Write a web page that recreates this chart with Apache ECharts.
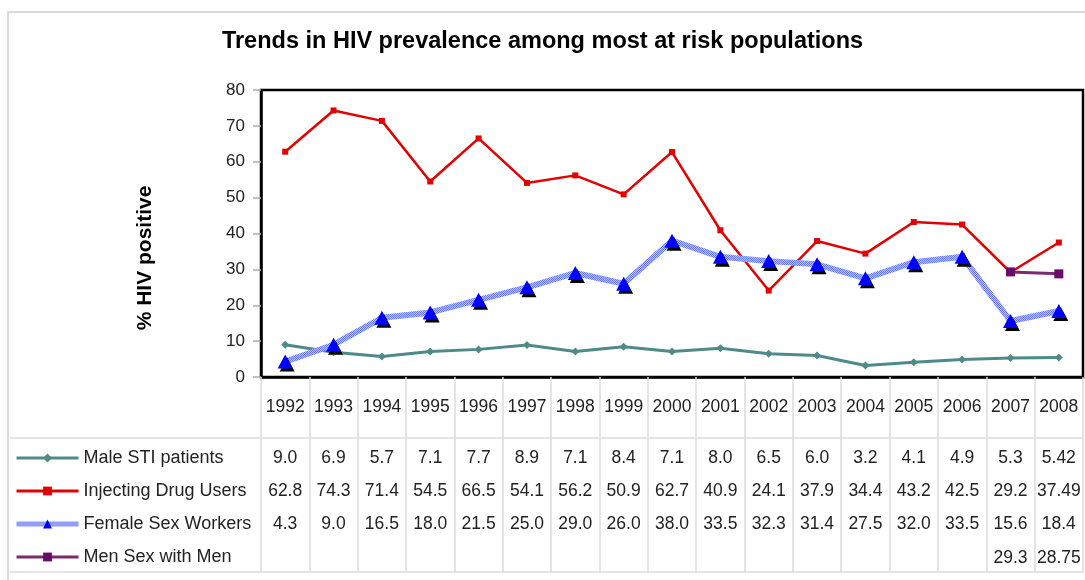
<!DOCTYPE html>
<html>
<head>
<meta charset="utf-8">
<script src="https://cdn.jsdelivr.net/npm/echarts@6/dist/echarts.min.js"></script>
<style>
html,body{margin:0;padding:0;background:#fff;}
#c{width:1085px;height:580px;}
</style>
</head>
<body>
<div id="c"></div>
<script>
const years = ['1992','1993','1994','1995','1996','1997','1998','1999','2000','2001','2002','2003','2004','2005','2006','2007','2008'];
const maleSTI = [9.0,6.9,5.7,7.1,7.7,8.9,7.1,8.4,7.1,8.0,6.5,6.0,3.2,4.1,4.9,5.3,5.42];
const idu = [62.8,74.3,71.4,54.5,66.5,54.1,56.2,50.9,62.7,40.9,24.1,37.9,34.4,43.2,42.5,29.2,37.49];
const fsw = [4.3,9.0,16.5,18.0,21.5,25.0,29.0,26.0,38.0,33.5,32.3,31.4,27.5,32.0,33.5,15.6,18.4];
const msm = [null,null,null,null,null,null,null,null,null,null,null,null,null,null,null,29.3,28.75];
const seriesNames = ['Male STI patients','Injecting Drug Users','Female Sex Workers','Men Sex with Men'];
const yTicks = {min:0, max:80, interval:10};
const titleText = 'Trends in HIV prevalence among most at risk populations';
const yAxisTitle = '% HIV positive';

function fmt(v){
  if (v === null || v === undefined) return '';
  return Number.isInteger(Math.round(v*100)/10) ? v.toFixed(1) : String(v);
}

// hatched pattern for FSW line
const pc = document.createElement('canvas');
pc.width = 2; pc.height = 2;
const pctx = pc.getContext('2d');
pctx.fillStyle = '#b4c0ff'; pctx.fillRect(0,0,2,2);
pctx.fillStyle = '#6a7cff';
pctx.fillRect(0,0,1,1); pctx.fillRect(1,1,1,1);
const hatch = {image:pc, repeat:'repeat'};

const chart = echarts.init(document.getElementById('c'), null, {renderer:'canvas'});
const FONT = 'Liberation Sans, Arial, sans-serif';
const TFS = 17.5; // table font size
const plotBottom = 377;
const rows = [maleSTI, idu, fsw, msm];
const rowCenters = [458, 491, 524, 558];

const xAxes = [{
  type:'category', data: years, gridIndex:0, position:'bottom', boundaryGap:true,
  axisLine:{show:true, lineStyle:{color:'#000', width:2.5}},
  axisTick:{show:true, inside:false, length:195, interval:0, lineStyle:{color:'#dcdcdc', width:1.5}},
  axisLabel:{show:true, interval:0, margin:407 - plotBottom - TFS/2, fontSize:TFS, color:'#222', fontFamily:FONT},
  splitLine:{show:false}
}];
rows.forEach((arr, i) => {
  xAxes.push({
    type:'category', data: years, gridIndex:0, position:'bottom',
    offset: rowCenters[i] - plotBottom - 8 - TFS/2,
    axisLine:{show:false}, axisTick:{show:false}, splitLine:{show:false},
    axisLabel:{show:true, interval:0, margin:8, fontSize:TFS, color:'#222', fontFamily:FONT,
      formatter:(val, idx) => fmt(arr[idx])}
  });
});

chart.setOption({
  animation:false,
  backgroundColor:'#fff',
  title:{
    text:titleText,
    left:'center', top:25,
    textStyle:{fontSize:23.5, fontWeight:'bold', color:'#000', fontFamily:FONT}
  },
  grid:{left:261, right:2, top:90, bottom:580-plotBottom, show:true, borderColor:'#000', borderWidth:2.5, backgroundColor:'transparent', containLabel:false},
  legend:{
    orient:'vertical', left:14, top:449, padding:0,
    itemWidth:62, itemHeight:11, itemGap:15,
    textStyle:{fontSize:18, color:'#222', fontFamily:FONT, lineHeight:18},
    data: [
      {name:seriesNames[0], lineStyle:{width:3}},
      {name:seriesNames[1], lineStyle:{width:3}},
      {name:seriesNames[2], lineStyle:{width:5, color:hatch}},
      {name:seriesNames[3], lineStyle:{width:3}}
    ]
  },
  xAxis: xAxes,
  yAxis:{
    type:'value', min:yTicks.min, max:yTicks.max, interval:yTicks.interval,
    axisLine:{show:true, lineStyle:{color:'#000', width:2.5}},
    axisTick:{show:true, inside:false, length:8, lineStyle:{color:'#aaa', width:1.5}},
    axisLabel:{fontSize:17, color:'#222', margin:16, fontFamily:FONT},
    splitLine:{show:false}
  },
  graphic:[
    {type:'rect', shape:{x:8, y:12, width:1200, height:700}, style:{fill:'none', stroke:'#d0d0d0', lineWidth:1.5}, z:-1},
    {type:'line', shape:{x1:10, y1:438, x2:1083, y2:438}, style:{stroke:'#dcdcdc', lineWidth:1.5}},
    {type:'line', shape:{x1:10, y1:572, x2:1083, y2:572}, style:{stroke:'#dcdcdc', lineWidth:1.5}},
    {type:'text', x:145, y:258, rotation:Math.PI/2, style:{text:yAxisTitle, fontSize:21, fontWeight:'bold', fill:'#000', fontFamily:FONT, align:'center', verticalAlign:'middle'}}
  ],
  series:[
    {name:seriesNames[0], type:'line', data:maleSTI, symbol:'diamond', symbolSize:8,
      lineStyle:{color:'#4f8a8a', width:3}, itemStyle:{color:'#4f8a8a'}, z:3},
    {name:seriesNames[1], type:'line', data:idu, symbol:'rect', symbolSize:6,
      lineStyle:{color:'#e30000', width:2.5}, itemStyle:{color:'#e30000'}, z:3},
    {name:seriesNames[2], type:'line', data:fsw, symbol:'triangle', symbolSize:[15,14],
      lineStyle:{color:hatch, width:6},
      itemStyle:{color:'#0000ff', shadowColor:'#000', shadowBlur:0, shadowOffsetX:2, shadowOffsetY:3}, z:4},
    {name:seriesNames[3], type:'line', data:msm, symbol:'rect', symbolSize:9, connectNulls:false,
      lineStyle:{color:'#7a2a70', width:3}, itemStyle:{color:'#6a0a6a'}, z:5}
  ]
});
</script>
</body>
</html>
